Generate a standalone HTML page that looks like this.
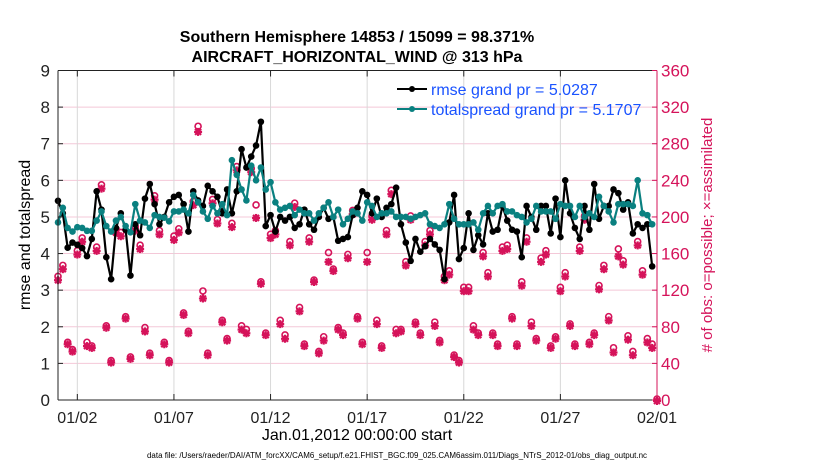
<!DOCTYPE html>
<html><head><meta charset="utf-8"><style>
body{margin:0;background:#fff;}
svg text{font-family:"Liberation Sans",sans-serif;}
</style></head><body>
<svg id="chart" width="830" height="470" viewBox="0 0 830 470" xmlns="http://www.w3.org/2000/svg">
<g id="grid"></g>
<g id="marks"></g>
<g id="axes"></g>
<text x="357" y="42" text-anchor="middle" font-size="16" font-weight="bold">Southern Hemisphere 14853 / 15099 = 98.371%</text>
<text x="357" y="62" text-anchor="middle" font-size="16" font-weight="bold">AIRCRAFT_HORIZONTAL_WIND @ 313 hPa</text>
<text transform="translate(30,235) rotate(-90)" text-anchor="middle" font-size="16">rmse and totalspread</text>
<text transform="translate(712,235) rotate(-90)" text-anchor="middle" font-size="15" fill="#d5135a"># of obs: o=possible; ×=assimilated</text>
<text x="357" y="440" text-anchor="middle" font-size="16">Jan.01,2012 00:00:00 start</text>
<text x="397" y="458" text-anchor="middle" font-size="8" textLength="500" lengthAdjust="spacingAndGlyphs">data file: /Users/raeder/DAI/ATM_forcXX/CAM6_setup/f.e21.FHIST_BGC.f09_025.CAM6assim.011/Diags_NTrS_2012-01/obs_diag_output.nc</text>
<g>
<line x1="397" y1="89" x2="427" y2="89" stroke="#000" stroke-width="2"/><circle cx="412" cy="89" r="3" fill="#000"/>
<text x="431" y="95" font-size="16" fill="#1a53ff">rmse grand pr = 5.0287</text>
<line x1="397" y1="109" x2="427" y2="109" stroke="#0a8080" stroke-width="2"/><circle cx="412" cy="109" r="3" fill="#0a8080"/>
<text x="431" y="115" font-size="16" fill="#1a53ff">totalspread grand pr = 5.1707</text>
</g>
</svg>
<script>
const rmse=[5.44,5.1,4.16,4.3,4.24,4.15,3.93,4.4,5.7,5.2,3.9,3.3,4.7,5.1,4.65,3.4,4.8,4.5,5.5,5.9,5.35,4.8,5.0,5.4,5.55,5.6,5.35,4.6,5.7,5.45,5.3,5.85,5.7,5.55,5.1,5.75,5.1,5.7,
6.85,6.35,6.65,6.95,7.6,4.75,5.05,4.6,5.0,4.9,5.0,4.7,4.8,5.2,4.8,4.65,5.0,5.25,4.95,5.0,4.35,4.4,4.45,5.05,5.25,5.7,5.6,5.1,5.5,5.0,5.25,5.35,5.8,4.8,4.3,3.8,4.4,4.05,4.2,4.4,
4.25,4.1,3.3,4.85,5.6,3.85,4.15,5.1,4.1,4.5,4.25,5.1,4.6,4.65,5.3,4.9,4.65,4.6,3.9,5.3,5.0,4.65,5.3,5.3,4.55,5.5,4.45,6.0,5.1,4.7,4.4,5.3,4.65,5.9,4.95,5.3,
5.3,5.75,5.65,5.2,5.4,4.55,4.8,4.7,4.8,3.65];
const spread=[4.85,5.25,4.7,4.6,4.72,4.7,4.62,4.62,4.9,5.15,4.75,4.6,4.9,5.0,4.75,4.58,5.35,4.9,4.85,4.7,5.05,5.0,4.98,4.88,5.15,5.15,5.2,5.1,5.6,5.4,5.15,4.95,5.3,5.1,5.35,5.05,
6.55,6.15,5.75,5.45,6.4,6.0,6.35,5.75,5.95,5.4,5.2,5.25,5.3,5.05,5.2,5.1,5.1,4.9,5.1,5.25,5.4,5.0,5.2,4.8,4.95,5.15,5.1,4.9,5.4,5.3,5.0,5.1,5.1,5.15,5.0,5.0,5.0,4.95,5.0,5.05,5.1,4.8,
4.75,4.7,4.8,5.35,4.95,4.8,4.8,4.8,4.85,4.65,5.1,5.3,5.1,5.3,5.35,5.15,5.15,5.05,5.0,4.85,4.95,5.3,5.15,5.15,5.15,4.95,5.35,5.3,5.3,5.0,5.3,5.0,5.1,5.0,5.55,5.3,5.15,4.85,5.35,5.35,5.35,5.3,
6.0,5.1,5.05,4.8];
const obsAssim=[132,144,62,54,160,174,60,58,164,232,80,42,184,180,90,46,186,166,76,50,220,182,62,42,176,184,94,74,214,294,112,50,216,194,86,66,190,252,78,
74,250,200,128,72,178,182,84,68,170,212,98,60,174,130,52,66,152,142,78,72,156,204,90,62,152,198,84,58,182,226,74,76,148,198,84,72,170,182,
82,64,132,138,48,42,120,120,78,72,158,136,72,60,164,166,90,60,126,174,82,66,152,160,58,68,120,136,82,60,164,198,62,72,122,144,
88,53,158,149,67,50,170,138,64,58,0];
const obsPoss=[134,146,62,54,162,176,62,58,166,234,80,42,186,182,90,46,188,168,78,50,222,184,62,42,178,186,94,74,216,298,118,50,218,196,86,66,192,254,80,
76,252,212,128,72,180,184,86,70,172,214,100,60,176,130,52,68,160,142,78,72,158,206,90,62,160,200,86,58,184,228,76,76,150,200,84,72,172,184,
84,64,134,140,48,42,122,122,80,72,160,138,72,60,166,168,90,60,128,176,84,66,154,162,58,68,122,138,82,60,166,200,62,72,124,146,
90,56,164,151,69,52,172,140,66,60,0];
const leftTicks=[0,1,2,3,4,5,6,7,8,9];
const rightTicks=[0,40,80,120,160,200,240,280,320,360];
const xTickDays=[1,6,11,16,21,26,31];
const xTickLabels=["01/02","01/07","01/12","01/17","01/22","01/27","02/01"];
const stepDays=0.25;

const L=58,R=657,T=70.5,B=400,NS="http://www.w3.org/2000/svg";
const xDay=d=>L+(d/31)*(R-L);
const yL=v=>B-(v/9)*(B-T);
const yR=c=>B-(c/360)*(B-T);
function mk(tag,attrs,parent){const e=document.createElementNS(NS,tag);for(const k in attrs)e.setAttribute(k,attrs[k]);parent.appendChild(e);return e;}
const grid=document.getElementById('grid'),marks=document.getElementById('marks'),axes=document.getElementById('axes');
leftTicks.forEach(v=>{if(v>0&&v<9){const l=mk('line',{x1:L,x2:R,y1:yL(v),y2:yL(v),stroke:'#f4c8d8','stroke-width':1},grid);

}});
xTickDays.forEach((d,i)=>{const x=xDay(d);
if(d<31){const g=mk('line',{x1:x,x2:x,y1:T,y2:B,stroke:'#d8d8d8','stroke-width':1},grid);

}
mk('line',{x1:x,x2:x,y1:B,y2:B-6,stroke:'#222'},axes);mk('line',{x1:x,x2:x,y1:T,y2:T+6,stroke:'#222'},axes);
const t=mk('text',{x:x,y:423,'text-anchor':'middle','font-size':16,fill:'#222'},axes);t.textContent=xTickLabels[i];

});
function star(cx,cy,parent){const s=4;const g=mk('g',{stroke:'#d5135a','stroke-width':2.2},parent);
mk('line',{x1:cx-s,x2:cx+s,y1:cy,y2:cy},g);mk('line',{x1:cx,x2:cx,y1:cy-s,y2:cy+s},g);
mk('line',{x1:cx-3,x2:cx+3,y1:cy-3,y2:cy+3},g);mk('line',{x1:cx-3,x2:cx+3,y1:cy+3,y2:cy-3},g);return g;}
obsPoss.forEach((c,i)=>{const x=xDay(i*stepDays);const ci=mk('circle',{cx:x,cy:yR(c)-1,r:3,fill:'none',stroke:'#d5135a','stroke-width':1.6},marks);

});
obsAssim.forEach((c,i)=>{const st=star(xDay(i*stepDays),yR(c)+1,marks);

});
function series(arr,color,name){const pts=arr.map((v,i)=>xDay(i*stepDays)+','+yL(v)).join(' ');
const pl=mk('polyline',{points:pts,fill:'none',stroke:color,'stroke-width':2.2,'stroke-linejoin':'round'},marks);


arr.forEach((v,i)=>{const c=mk('circle',{cx:xDay(i*stepDays),cy:yL(v),r:3.3,fill:color},marks);

});}
series(rmse,'#000','rmse');
series(spread,'#0a8080','totalspread');
mk('line',{x1:L,x2:R,y1:T,y2:T,stroke:'#222','stroke-width':1},axes);
mk('line',{x1:L,x2:R,y1:B,y2:B,stroke:'#222','stroke-width':1},axes);
mk('line',{x1:L,x2:L,y1:T,y2:B,stroke:'#222','stroke-width':1},axes);
mk('line',{x1:R,x2:R,y1:T,y2:B,stroke:'#d5135a','stroke-width':1},axes);
leftTicks.forEach(v=>{const y=yL(v);mk('line',{x1:L,x2:L+5,y1:y,y2:y,stroke:'#222'},axes);
const t=mk('text',{x:50,y:y+6,'text-anchor':'end','font-size':17,fill:'#222'},axes);t.textContent=v;

});
rightTicks.forEach(c=>{const y=yR(c);mk('line',{x1:R-5,x2:R,y1:y,y2:y,stroke:'#d5135a'},axes);
const t=mk('text',{x:661,y:y+6,'font-size':17,fill:'#d5135a'},axes);t.textContent=c;

});
</script>
</body></html>
